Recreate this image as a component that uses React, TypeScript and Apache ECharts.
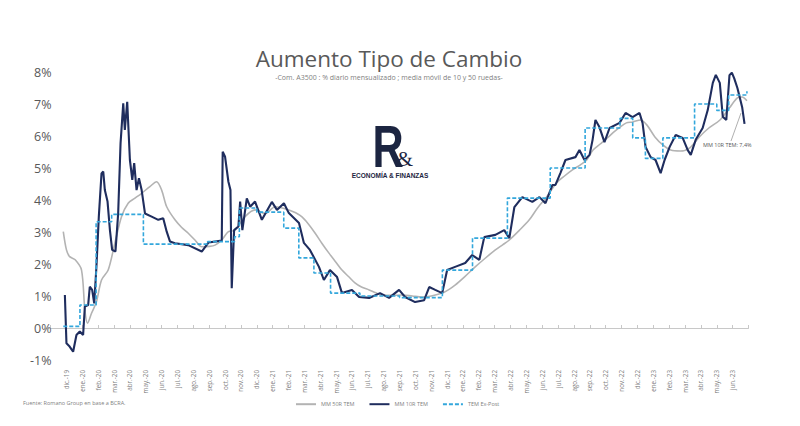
import React, { useEffect, useRef } from "react";
import * as echarts from "echarts";

// x = months since the "dic.-19" tick; y = percent
const monthLabels = [
  "dic.-19", "ene.-20", "feb.-20", "mar.-20", "abr.-20", "may.-20", "jun.-20", "jul.-20", "ago.-20", "sep.-20", "oct.-20", "nov.-20",
  "dic.-20", "ene.-21", "feb.-21", "mar.-21", "abr.-21", "may.-21", "jun.-21", "jul.-21", "ago.-21", "sep.-21", "oct.-21", "nov.-21",
  "dic.-21", "ene.-22", "feb.-22", "mar.-22", "abr.-22", "may.-22", "jun.-22", "jul.-22", "ago.-22", "sep.-22", "oct.-22", "nov.-22",
  "dic.-22", "ene.-23", "feb.-23", "mar.-23", "abr.-23", "may.-23", "jun.-23",
];

const yTicks = [-1, 0, 1, 2, 3, 4, 5, 6, 7, 8];

const mm50R: [number, number][] = [
  [-0.2, 3.01], [0.0, 2.44], [0.2, 2.23], [0.55, 2.13], [0.95, 1.81], [1.16, 0.56], [1.33, 0.15], [1.58, 0.46],
  [1.89, 0.82], [2.21, 1.5], [2.63, 1.81], [3.05, 2.65], [3.47, 3.48], [3.89, 3.9], [4.3, 4.05], [4.74, 4.21],
  [5.26, 4.42], [5.68, 4.57], [6.0, 4.31], [6.32, 3.79], [6.84, 3.38], [7.25, 3.15], [7.68, 2.96], [8.1, 2.75],
  [8.53, 2.54], [9.0, 2.55], [9.37, 2.59], [9.79, 2.75], [10.21, 3.01], [10.63, 3.06], [11.26, 3.48], [11.89, 3.69],
  [12.53, 3.58], [13.16, 3.79], [13.6, 3.75], [14.02, 3.69], [14.45, 3.6], [14.85, 3.47], [15.25, 3.25], [15.67, 2.97],
  [16.1, 2.65], [16.55, 2.34], [17.0, 2.05], [17.37, 1.81], [17.8, 1.6], [18.19, 1.41], [18.6, 1.28], [19.08, 1.19],
  [19.5, 1.1], [19.9, 1.03], [20.5, 1.02], [21.16, 1.03], [21.8, 1.0], [22.43, 0.97], [23.0, 1.0], [23.69, 1.09],
  [24.1, 1.2], [24.5, 1.34], [25.1, 1.6], [25.77, 1.91], [26.4, 2.18], [27.04, 2.44], [27.5, 2.6], [27.92, 2.75],
  [28.55, 3.05], [29.18, 3.38], [29.7, 3.75], [30.2, 4.05], [30.9, 4.53], [31.4, 4.75], [31.9, 4.94], [32.4, 5.1],
  [32.8, 5.25], [33.2, 5.56], [33.65, 5.75], [34.1, 5.94], [34.5, 6.12], [34.9, 6.28], [35.3, 6.41], [35.7, 6.44],
  [36.2, 6.5], [36.6, 6.34], [37.1, 5.97], [37.6, 5.72], [38.1, 5.56], [38.7, 5.53], [39.3, 5.63], [39.9, 5.97],
  [40.5, 6.25], [41.2, 6.5], [41.8, 6.88], [42.3, 7.19], [42.6, 7.22], [42.9, 7.1],
];

const mm10R: [number, number][] = [
  [-0.1, 1.03], [0.0, -0.48], [0.2, -0.58], [0.42, -0.74], [0.63, -0.22], [0.84, -0.11], [1.05, -0.22], [1.16, 0.67],
  [1.37, 0.72], [1.47, 1.29], [1.62, 1.19], [1.75, 0.77], [1.89, 1.92], [2.04, 3.48], [2.21, 4.83], [2.32, 4.89],
  [2.42, 4.31], [2.59, 3.95], [2.74, 3.06], [2.88, 2.44], [3.09, 2.39], [3.26, 3.58], [3.41, 5.77], [3.58, 7.02],
  [3.68, 6.19], [3.83, 7.07], [4.0, 5.25], [4.15, 4.63], [4.27, 5.15], [4.42, 4.31], [4.57, 4.68], [4.74, 4.31],
  [4.95, 3.58], [5.37, 3.48], [5.79, 3.38], [6.1, 3.43], [6.32, 3.01], [6.53, 2.7], [6.84, 2.65], [7.68, 2.59],
  [8.53, 2.39], [8.95, 2.67], [9.79, 2.73], [9.85, 5.51], [10.0, 5.35], [10.21, 4.57], [10.34, 4.31], [10.42, 1.24],
  [10.57, 3.06], [10.84, 3.17], [10.95, 3.95], [11.09, 3.06], [11.37, 4.05], [11.58, 3.79], [11.89, 3.95], [12.32, 3.38],
  [12.95, 3.94], [13.27, 3.69], [13.71, 3.9], [14.02, 3.59], [14.66, 3.28], [14.97, 2.66], [15.35, 2.44], [15.92, 1.91],
  [16.23, 1.5], [16.61, 1.81], [17.06, 1.59], [17.37, 1.09], [18.0, 1.19], [18.45, 0.97], [19.08, 0.94], [19.77, 1.09],
  [20.34, 0.94], [20.97, 1.19], [21.35, 0.97], [21.98, 0.81], [22.55, 0.87], [22.87, 1.28], [23.25, 1.19], [23.69, 1.09],
  [24.0, 1.81], [24.5, 1.91], [25.14, 2.03], [25.58, 2.28], [26.03, 2.13], [26.34, 2.84], [27.04, 2.91], [27.6, 3.06],
  [27.92, 2.81], [28.24, 3.78], [28.74, 4.09], [29.37, 3.94], [29.82, 4.09], [30.2, 3.9], [30.64, 4.47], [30.83, 4.47],
  [31.14, 4.84], [31.46, 5.25], [32.09, 5.34], [32.34, 5.56], [32.66, 5.25], [32.98, 5.41], [33.17, 5.88], [33.35, 6.5],
  [33.6, 6.28], [33.92, 5.81], [34.24, 6.25], [34.87, 6.41], [35.25, 6.72], [35.69, 6.59], [36.13, 6.72], [36.32, 6.41],
  [36.51, 5.66], [36.83, 5.34], [37.14, 5.25], [37.46, 4.84], [37.71, 5.25], [38.03, 5.66], [38.41, 6.03], [38.85, 5.94],
  [39.17, 5.56], [39.36, 5.41], [39.67, 5.88], [40.11, 6.25], [40.43, 6.81], [40.75, 7.66], [40.94, 7.91], [41.19, 7.66],
  [41.38, 6.6], [41.6, 6.5], [41.8, 7.9], [41.95, 7.98], [42.1, 7.8], [42.3, 7.5], [42.45, 7.2], [42.6, 6.9], [42.75, 6.38],
];

const temExPost: [number, number][] = [
  [-0.2, 0.05], [0.85, 0.72], [1.87, 3.32], [2.85, 3.55], [4.85, 2.62], [8.9, 2.7], [10.6, 2.85], [10.9, 3.75],
  [12.0, 3.62], [13.7, 3.12], [14.65, 2.19], [15.6, 1.72], [16.65, 1.09], [18.5, 1.0], [21.0, 0.95], [23.7, 1.81],
  [25.6, 2.81], [27.8, 4.06], [30.5, 5.0], [32.7, 6.25], [34.9, 6.55], [35.7, 5.94], [36.5, 5.3], [37.6, 5.94],
  [39.6, 7.0], [41.0, 6.8], [41.75, 7.28], [42.9, 7.4],
];

const GRAY = "#595959";
const NAVY = "#1c2541";

export default function App() {
  const ref = useRef<HTMLDivElement>(null);

  useEffect(() => {
    document.body.style.margin = "0";
    const chart = echarts.init(ref.current!, null, { renderer: "svg" });
    // label axis: one slot before dic.-19 and one after jun.-23 so it lines up with the value axis (-1..43)
    const labelSlots = ["", ...monthLabels, ""];
    chart.setOption({
      animation: false,
      backgroundColor: "#ffffff",
      textStyle: { fontFamily: "Open Sans" },
      grid: { left: 50.6, right: 51.5, top: 72, bottom: 66, containLabel: false },
      legend: {
        left: 290,
        top: 396,
        itemWidth: 20,
        itemHeight: 8,
        itemGap: 14,
        itemStyle: { opacity: 0 },
        textStyle: { fontSize: 5.5, color: "#7f7f7f", fontFamily: "Open Sans" },
        data: ["MM 50R TEM", "MM 10R TEM", "TEM Ex-Post"],
      },
      xAxis: [
        {
          type: "category",
          data: labelSlots,
          boundaryGap: false,
          position: "bottom",
          axisLine: { show: false, onZero: false },
          axisTick: { show: false },
          splitLine: { show: false },
          axisLabel: {
            interval: 0,
            rotate: 90,
            fontSize: 6.3,
            margin: 10,
            color: "#7f7f7f",
            hideOverlap: false,
          },
        },
        {
          type: "value",
          min: -1,
          max: 43,
          interval: 1,
          position: "bottom",
          axisLine: { show: true, onZero: true, lineStyle: { color: "#c8c8c8", width: 1 } },
          axisTick: { show: true, inside: true, length: 3, lineStyle: { color: "#c8c8c8" } },
          axisLabel: { show: false },
          splitLine: { show: false },
        },
      ],
      yAxis: {
        type: "value",
        min: yTicks[0],
        max: yTicks[yTicks.length - 1],
        interval: 1,
        axisLine: { show: false },
        axisTick: { show: false },
        splitLine: { show: false },
        axisLabel: { fontSize: 12.5, color: GRAY, margin: -1, formatter: (v: number) => `${v}%` },
      },
      series: [
        {
          name: "MM 50R TEM",
          type: "line",
          xAxisIndex: 1,
          data: mm50R,
          showSymbol: false,
          symbol: "none",
          smooth: 0.3,
          lineStyle: { color: "#b3b3b3", width: 1.6 },
          itemStyle: { color: "#b3b3b3" },
        },
        {
          name: "MM 10R TEM",
          type: "line",
          xAxisIndex: 1,
          data: mm10R,
          showSymbol: false,
          symbol: "none",
          lineStyle: { color: "#1f2d5e", width: 2.1 },
          itemStyle: { color: "#1f2d5e" },
        },
        {
          name: "TEM Ex-Post",
          type: "line",
          xAxisIndex: 1,
          data: temExPost,
          step: "end",
          showSymbol: false,
          symbol: "none",
          lineStyle: { color: "#33a7dc", width: 1.6, type: [4, 2] },
          itemStyle: { color: "#33a7dc" },
        },
      ],
      graphic: [
        {
          type: "text",
          x: 389,
          y: 58,
          style: { text: "Aumento Tipo de Cambio", fontSize: 22.5, fontFamily: "Open Sans", fill: GRAY, align: "center", verticalAlign: "middle" },
        },
        {
          type: "text",
          x: 389,
          y: 77,
          style: {
            text: "-Com. A3500 : % diario mensualizado ; media móvil de 10 y 50 ruedas-",
            fontSize: 7,
            fontFamily: "Open Sans",
            fill: "#7f7f7f",
            align: "center",
            verticalAlign: "middle",
          },
        },
        {
          type: "text",
          x: 388,
          y: 146,
          scaleX: 0.72,
          style: { text: "R", fontSize: 60, fontWeight: "bold", fontFamily: "Liberation Sans", fill: NAVY, align: "center", verticalAlign: "middle" },
        },
        {
          type: "text",
          x: 405,
          y: 159,
          style: { text: "&", fontSize: 21, fontFamily: "Liberation Serif", fill: NAVY, align: "center", verticalAlign: "middle" },
        },
        {
          type: "text",
          x: 390,
          y: 175,
          style: { text: "ECONOMÍA & FINANZAS", fontSize: 6.5, fontWeight: "bold", fontFamily: "Liberation Sans", fill: NAVY, align: "center", verticalAlign: "middle" },
        },
        {
          type: "line",
          shape: { x1: 741, y1: 113, x2: 731, y2: 141 },
          style: { stroke: "#9a9a9a", lineWidth: 0.8 },
        },
        {
          type: "text",
          x: 703,
          y: 145,
          style: { text: "MM 10R TEM: 7,4%", fontSize: 5.5, fontFamily: "Open Sans", fill: "#595959", align: "left", verticalAlign: "middle" },
        },
        {
          type: "text",
          x: 23,
          y: 403,
          style: { text: "Fuente: Romano Group en base a BCRA.", fontSize: 5.5, fontFamily: "Open Sans", fill: "#7f7f7f", align: "left", verticalAlign: "middle" },
        },
      ],
    });
    return () => chart.dispose();
  }, []);

  return <div ref={ref} style={{ width: 800, height: 426, background: "#fff" }} />;
}
